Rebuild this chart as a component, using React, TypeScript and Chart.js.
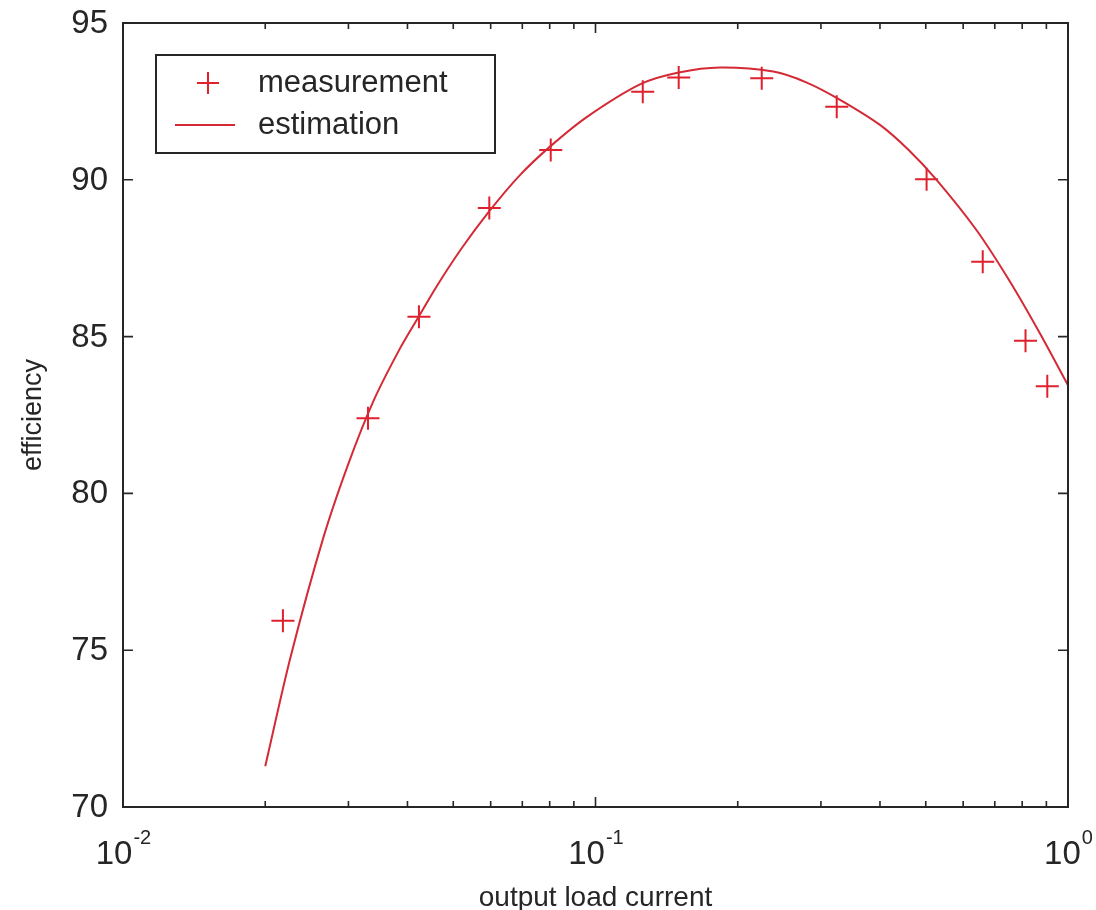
import { useEffect, useRef } from "react";
import { Chart, registerables } from "chart.js";

Chart.register(...registerables);

// Measured converter efficiency vs output load current
const loadCurrent = [0.0218, 0.033, 0.0423, 0.0596, 0.0804, 0.1259, 0.15, 0.2248, 0.324, 0.502, 0.66, 0.813, 0.904];
const measuredEff = [75.94, 82.4, 85.63, 89.1, 90.95, 92.81, 93.26, 93.24, 92.33, 90.02, 87.39, 84.87, 83.42];

// Estimated efficiency curve
const fitCurrent = [
  0.02, 0.0226, 0.0265, 0.03, 0.0339, 0.0385, 0.0423, 0.0461, 0.052, 0.0596, 0.0692, 0.08, 0.0958,
  0.1245, 0.15, 0.1834, 0.2378, 0.28, 0.3293, 0.4, 0.46, 0.527, 0.64, 0.754, 0.8724, 1.0,
];
const fitEff = [
  71.3, 74.75, 78.55, 80.95, 82.95, 84.6, 85.65, 86.6, 87.8, 89.0, 90.15, 91.05, 92.0,
  93.05, 93.42, 93.58, 93.45, 93.1, 92.55, 91.75, 90.95, 90.0, 88.4, 86.75, 85.1, 83.45,
];

const yTicks = [70, 75, 80, 85, 90, 95];
const xDecades = [0.01, 0.1, 1];
const xDecadeExponents = ["-2", "-1", "0"];
const legendLabels = ["measurement", "estimation"];
const xTitle = "output load current";
const yTitle = "efficiency";

const MARK_RED = "#e0202c";
const LINE_RED = "#d42a36";
const INK = "#262626";
const FONT = "'Liberation Sans', Arial, sans-serif";

const framePlugin = {
  id: "matlabFrame",
  afterDraw(chart: any) {
    const { ctx, chartArea } = chart;
    const xs = chart.scales.x;
    const ys = chart.scales.y;
    const { left, right, top, bottom } = chartArea;
    ctx.save();

    // axes box
    ctx.strokeStyle = INK;
    ctx.lineWidth = 2;
    ctx.strokeRect(left, top, right - left, bottom - top);

    // inward tick marks
    ctx.lineWidth = 1.6;
    ctx.beginPath();
    for (let d = 0; d < xDecades.length; d++) {
      const base = xDecades[d];
      const maxM = d === xDecades.length - 1 ? 1 : 9;
      for (let m = 1; m <= maxM; m++) {
        const px = xs.getPixelForValue(base * m);
        const len = m === 1 ? 10 : 6;
        ctx.moveTo(px, bottom);
        ctx.lineTo(px, bottom - len);
        ctx.moveTo(px, top);
        ctx.lineTo(px, top + len);
      }
    }
    for (const v of yTicks) {
      const py = ys.getPixelForValue(v);
      ctx.moveTo(left, py);
      ctx.lineTo(left + 10, py);
      ctx.moveTo(right, py);
      ctx.lineTo(right - 10, py);
    }
    ctx.stroke();

    // y tick labels
    ctx.fillStyle = INK;
    ctx.font = `33px ${FONT}`;
    ctx.textAlign = "right";
    ctx.textBaseline = "middle";
    for (const v of yTicks) {
      ctx.fillText(String(v), left - 15, ys.getPixelForValue(v) + 1);
    }

    // x tick labels (10 with superscript exponent)
    ctx.textBaseline = "alphabetic";
    ctx.textAlign = "left";
    xDecades.forEach((v, i) => {
      const px = xs.getPixelForValue(v);
      ctx.font = `33px ${FONT}`;
      const wBase = ctx.measureText("10").width;
      ctx.font = `20px ${FONT}`;
      const wExp = ctx.measureText(xDecadeExponents[i]).width;
      const x0 = px - (wBase + wExp) / 2;
      ctx.font = `33px ${FONT}`;
      ctx.fillText("10", x0, bottom + 57);
      ctx.font = `20px ${FONT}`;
      ctx.fillText(xDecadeExponents[i], x0 + wBase + 1, bottom + 37);
    });

    // axis titles
    ctx.font = `28px ${FONT}`;
    ctx.textAlign = "center";
    ctx.fillText(xTitle, (left + right) / 2, bottom + 99);
    ctx.save();
    ctx.translate(34, (top + bottom) / 2);
    ctx.rotate(-Math.PI / 2);
    ctx.textBaseline = "middle";
    ctx.font = `27px ${FONT}`;
    ctx.fillText(yTitle, 0, 0);
    ctx.restore();

    // legend
    const lx = left + 33;
    const ly = top + 32;
    const lw = 339;
    const lh = 98;
    ctx.fillStyle = "#ffffff";
    ctx.fillRect(lx, ly, lw, lh);
    ctx.strokeStyle = INK;
    ctx.lineWidth = 2;
    ctx.strokeRect(lx, ly, lw, lh);

    const row1 = ly + 28;
    const row2 = ly + 70;
    ctx.strokeStyle = MARK_RED;
    ctx.lineWidth = 2;
    ctx.beginPath();
    ctx.moveTo(lx + 41, row1);
    ctx.lineTo(lx + 63, row1);
    ctx.moveTo(lx + 52, row1 - 11);
    ctx.lineTo(lx + 52, row1 + 11);
    ctx.stroke();
    ctx.strokeStyle = LINE_RED;
    ctx.beginPath();
    ctx.moveTo(lx + 19, row2);
    ctx.lineTo(lx + 79, row2);
    ctx.stroke();

    ctx.fillStyle = INK;
    ctx.font = `31px ${FONT}`;
    ctx.textAlign = "left";
    ctx.textBaseline = "middle";
    ctx.fillText(legendLabels[0], lx + 102, row1);
    ctx.fillText(legendLabels[1], lx + 102, row2);

    ctx.restore();
  },
};

export default function App() {
  const canvasRef = useRef<HTMLCanvasElement | null>(null);

  useEffect(() => {
    const canvas = canvasRef.current;
    if (!canvas) return;
    const chart = new Chart(canvas, {
      type: "scatter",
      data: {
        datasets: [
          {
            label: legendLabels[1],
            data: fitCurrent.map((x, i) => ({ x, y: fitEff[i] })),
            showLine: true,
            borderColor: LINE_RED,
            borderWidth: 2,
            pointRadius: 0,
            tension: 0.3,
          },
          {
            label: legendLabels[0],
            data: loadCurrent.map((x, i) => ({ x, y: measuredEff[i] })),
            showLine: false,
            pointStyle: "cross",
            pointRadius: 11.5,
            borderColor: MARK_RED,
            backgroundColor: MARK_RED,
            borderWidth: 2,
          },
        ],
      },
      options: {
        responsive: false,
        animation: false,
        layout: { padding: { top: 23, right: 28, left: 0, bottom: 0 } },
        plugins: { legend: { display: false }, tooltip: { enabled: false } },
        scales: {
          x: {
            type: "logarithmic",
            min: 0.01,
            max: 1,
            ticks: { display: false },
            grid: { display: false },
            border: { display: false },
            afterFit: (s: any) => {
              s.height = 103;
            },
          },
          y: {
            type: "linear",
            min: 70,
            max: 95,
            ticks: { display: false },
            grid: { display: false },
            border: { display: false },
            afterFit: (s: any) => {
              s.width = 123;
            },
          },
        },
      },
      plugins: [framePlugin],
    });
    return () => chart.destroy();
  }, []);

  return (
    <div style={{ position: "fixed", left: 0, top: 0, width: 1096, height: 910, background: "#ffffff" }}>
      <canvas ref={canvasRef} width={1096} height={910} />
    </div>
  );
}
